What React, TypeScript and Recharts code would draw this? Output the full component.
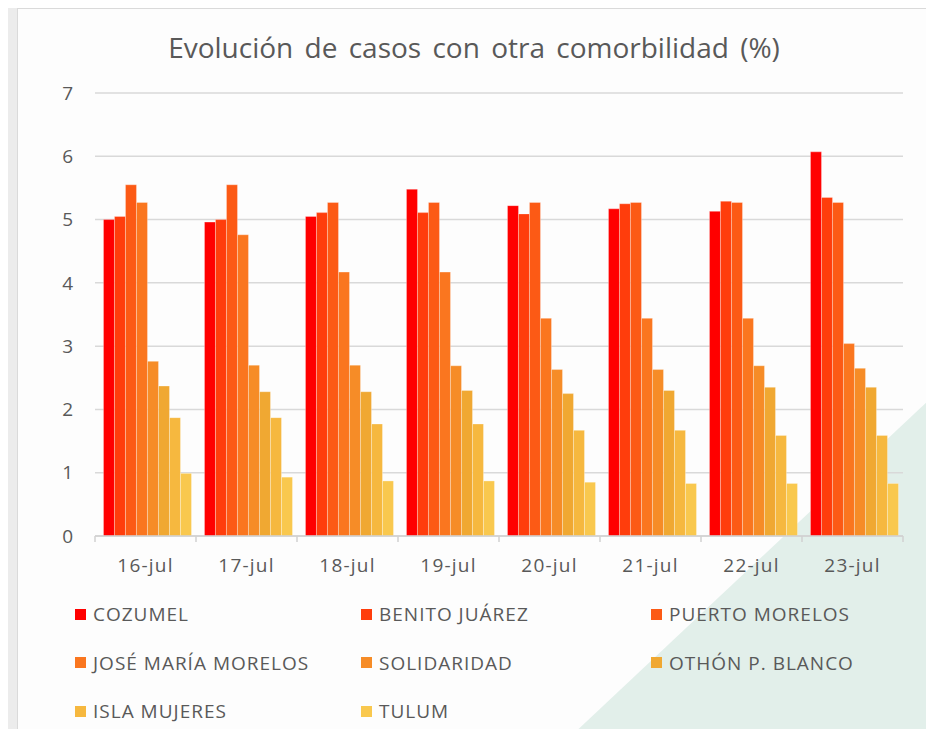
import { Bar, BarChart, CartesianGrid, Legend, XAxis, YAxis } from "recharts";

const days = ["16-jul", "17-jul", "18-jul", "19-jul", "20-jul", "21-jul", "22-jul", "23-jul"];

const cozumel = [5.0, 4.96, 5.05, 5.48, 5.22, 5.17, 5.13, 6.07];
const benitoJuarez = [5.05, 5.0, 5.11, 5.11, 5.09, 5.25, 5.29, 5.35];
const puertoMorelos = [5.55, 5.55, 5.27, 5.27, 5.27, 5.27, 5.27, 5.27];
const joseMariaMorelos = [5.27, 4.76, 4.17, 4.17, 3.44, 3.44, 3.44, 3.04];
const solidaridad = [2.76, 2.7, 2.7, 2.69, 2.63, 2.63, 2.69, 2.65];
const othonPBlanco = [2.37, 2.28, 2.28, 2.3, 2.25, 2.3, 2.35, 2.35];
const islaMujeres = [1.87, 1.87, 1.77, 1.77, 1.67, 1.67, 1.59, 1.59];
const tulum = [0.99, 0.93, 0.87, 0.87, 0.85, 0.83, 0.83, 0.83];

const yTicks = [0, 1, 2, 3, 4, 5, 6, 7];

const series = [
  { key: "cozumel", name: "COZUMEL", values: cozumel, color: "#ff0000" },
  { key: "benito", name: "BENITO JUÁREZ", values: benitoJuarez, color: "#ff3d0c" },
  { key: "puerto", name: "PUERTO MORELOS", values: puertoMorelos, color: "#fc5a15" },
  { key: "jose", name: "JOSÉ MARÍA MORELOS", values: joseMariaMorelos, color: "#fa761f" },
  { key: "solidaridad", name: "SOLIDARIDAD", values: solidaridad, color: "#f68c27" },
  { key: "othon", name: "OTHÓN P. BLANCO", values: othonPBlanco, color: "#f0a832" },
  { key: "isla", name: "ISLA MUJERES", values: islaMujeres, color: "#f6b83f" },
  { key: "tulum", name: "TULUM", values: tulum, color: "#f9c84e" },
];

const data = days.map((day, i) => {
  const row: Record<string, string | number> = { day };
  series.forEach((s) => {
    row[s.key] = s.values[i];
  });
  return row;
});

const FONT = "'Open Sans', sans-serif";
const TEXT = "#595959";

function DayTick(props: any) {
  const { x, y, payload, index, width, visibleTicksCount } = props;
  const half = width / visibleTicksCount / 2;
  const last = index === visibleTicksCount - 1;
  return (
    <g>
      <line x1={x - half} y1={y} x2={x - half} y2={y + 6} stroke="#d0d0d0" strokeWidth={1.5} />
      {last && <line x1={x + half} y1={y} x2={x + half} y2={y + 6} stroke="#d0d0d0" strokeWidth={1.5} />}
      <text
        x={x}
        y={y + 36}
        textAnchor="middle"
        fill={TEXT}
        fontSize={19}
        letterSpacing={1.2}
        fontFamily={FONT}
      >
        {payload.value}
      </text>
    </g>
  );
}

function LegendGrid() {
  const cols = [75, 361, 651];
  return (
    <div style={{ position: "relative", width: 934, height: 120, fontFamily: FONT }}>
      {series.map((s, i) => (
        <div
          key={s.key}
          style={{
            position: "absolute",
            left: cols[i % 3],
            top: Math.floor(i / 3) * 48.5,
            display: "flex",
            alignItems: "center",
            color: TEXT,
            fontSize: 19,
            letterSpacing: 1,
            whiteSpace: "nowrap",
          }}
        >
          <span style={{ width: 11, height: 11, background: s.color, marginRight: 7, display: "inline-block" }} />
          {s.name}
        </div>
      ))}
    </div>
  );
}

export default function App() {
  return (
    <div style={{ position: "relative", width: 934, height: 737, margin: -8, background: "#ececec", overflow: "hidden" }}>
      <div style={{ position: "absolute", left: 931, top: 0, width: 3, height: 737, background: "#2f6f55" }} />
      <div
        style={{
          position: "absolute",
          left: 17,
          top: 8,
          width: 914,
          height: 740,
          background: "#fdfdfd",
          border: "1px solid #dadada",
          boxSizing: "border-box",
        }}
      />
      <div
        style={{
          position: "absolute",
          inset: 0,
          background: "#e2efea",
          clipPath: "polygon(931px 398px, 931px 737px, 570px 737px)",
        }}
      />
      <div
        style={{
          position: "absolute",
          left: 0,
          top: 28,
          width: 948,
          textAlign: "center",
          fontFamily: FONT,
          fontSize: 28,
          wordSpacing: 4,
          color: TEXT,
        }}
      >
        Evolución de casos con otra comorbilidad (%)
      </div>
      <div style={{ position: "absolute", left: 0, top: 0 }}>
        <BarChart
          width={934}
          height={737}
          data={data}
          margin={{ top: 93, right: 31, left: 0, bottom: 161 }}
          barCategoryGap="8.4%"
          barGap={0}
        >
          <CartesianGrid vertical={false} stroke="#d9d9d9" strokeWidth={1.5} />
          <XAxis
            dataKey="day"
            height={40}
            tickLine={false}
            tickSize={0}
            tickMargin={0}
            stroke="#d0d0d0"
            strokeWidth={1.5}
            tick={<DayTick />}
            interval={0}
          />
          <YAxis
            width={95}
            domain={[0, 7]}
            ticks={yTicks}
            axisLine={false}
            tickLine={false}
            tickSize={0}
            tickMargin={22}
            tick={{ fill: TEXT, fontSize: 19, fontFamily: FONT }}
          />
          <Legend
            layout="horizontal"
            verticalAlign="middle"
            align="center"
            wrapperStyle={{ left: 0, top: 601, width: 934 }}
            content={<LegendGrid />}
          />
          {series.map((s) => (
            <Bar
              key={s.key}
              dataKey={s.key}
              name={s.name}
              fill={s.color}
              stroke="#ffffff"
              strokeOpacity={0.5}
              strokeWidth={0.6}
              isAnimationActive={false}
            />
          ))}
        </BarChart>
      </div>
    </div>
  );
}
